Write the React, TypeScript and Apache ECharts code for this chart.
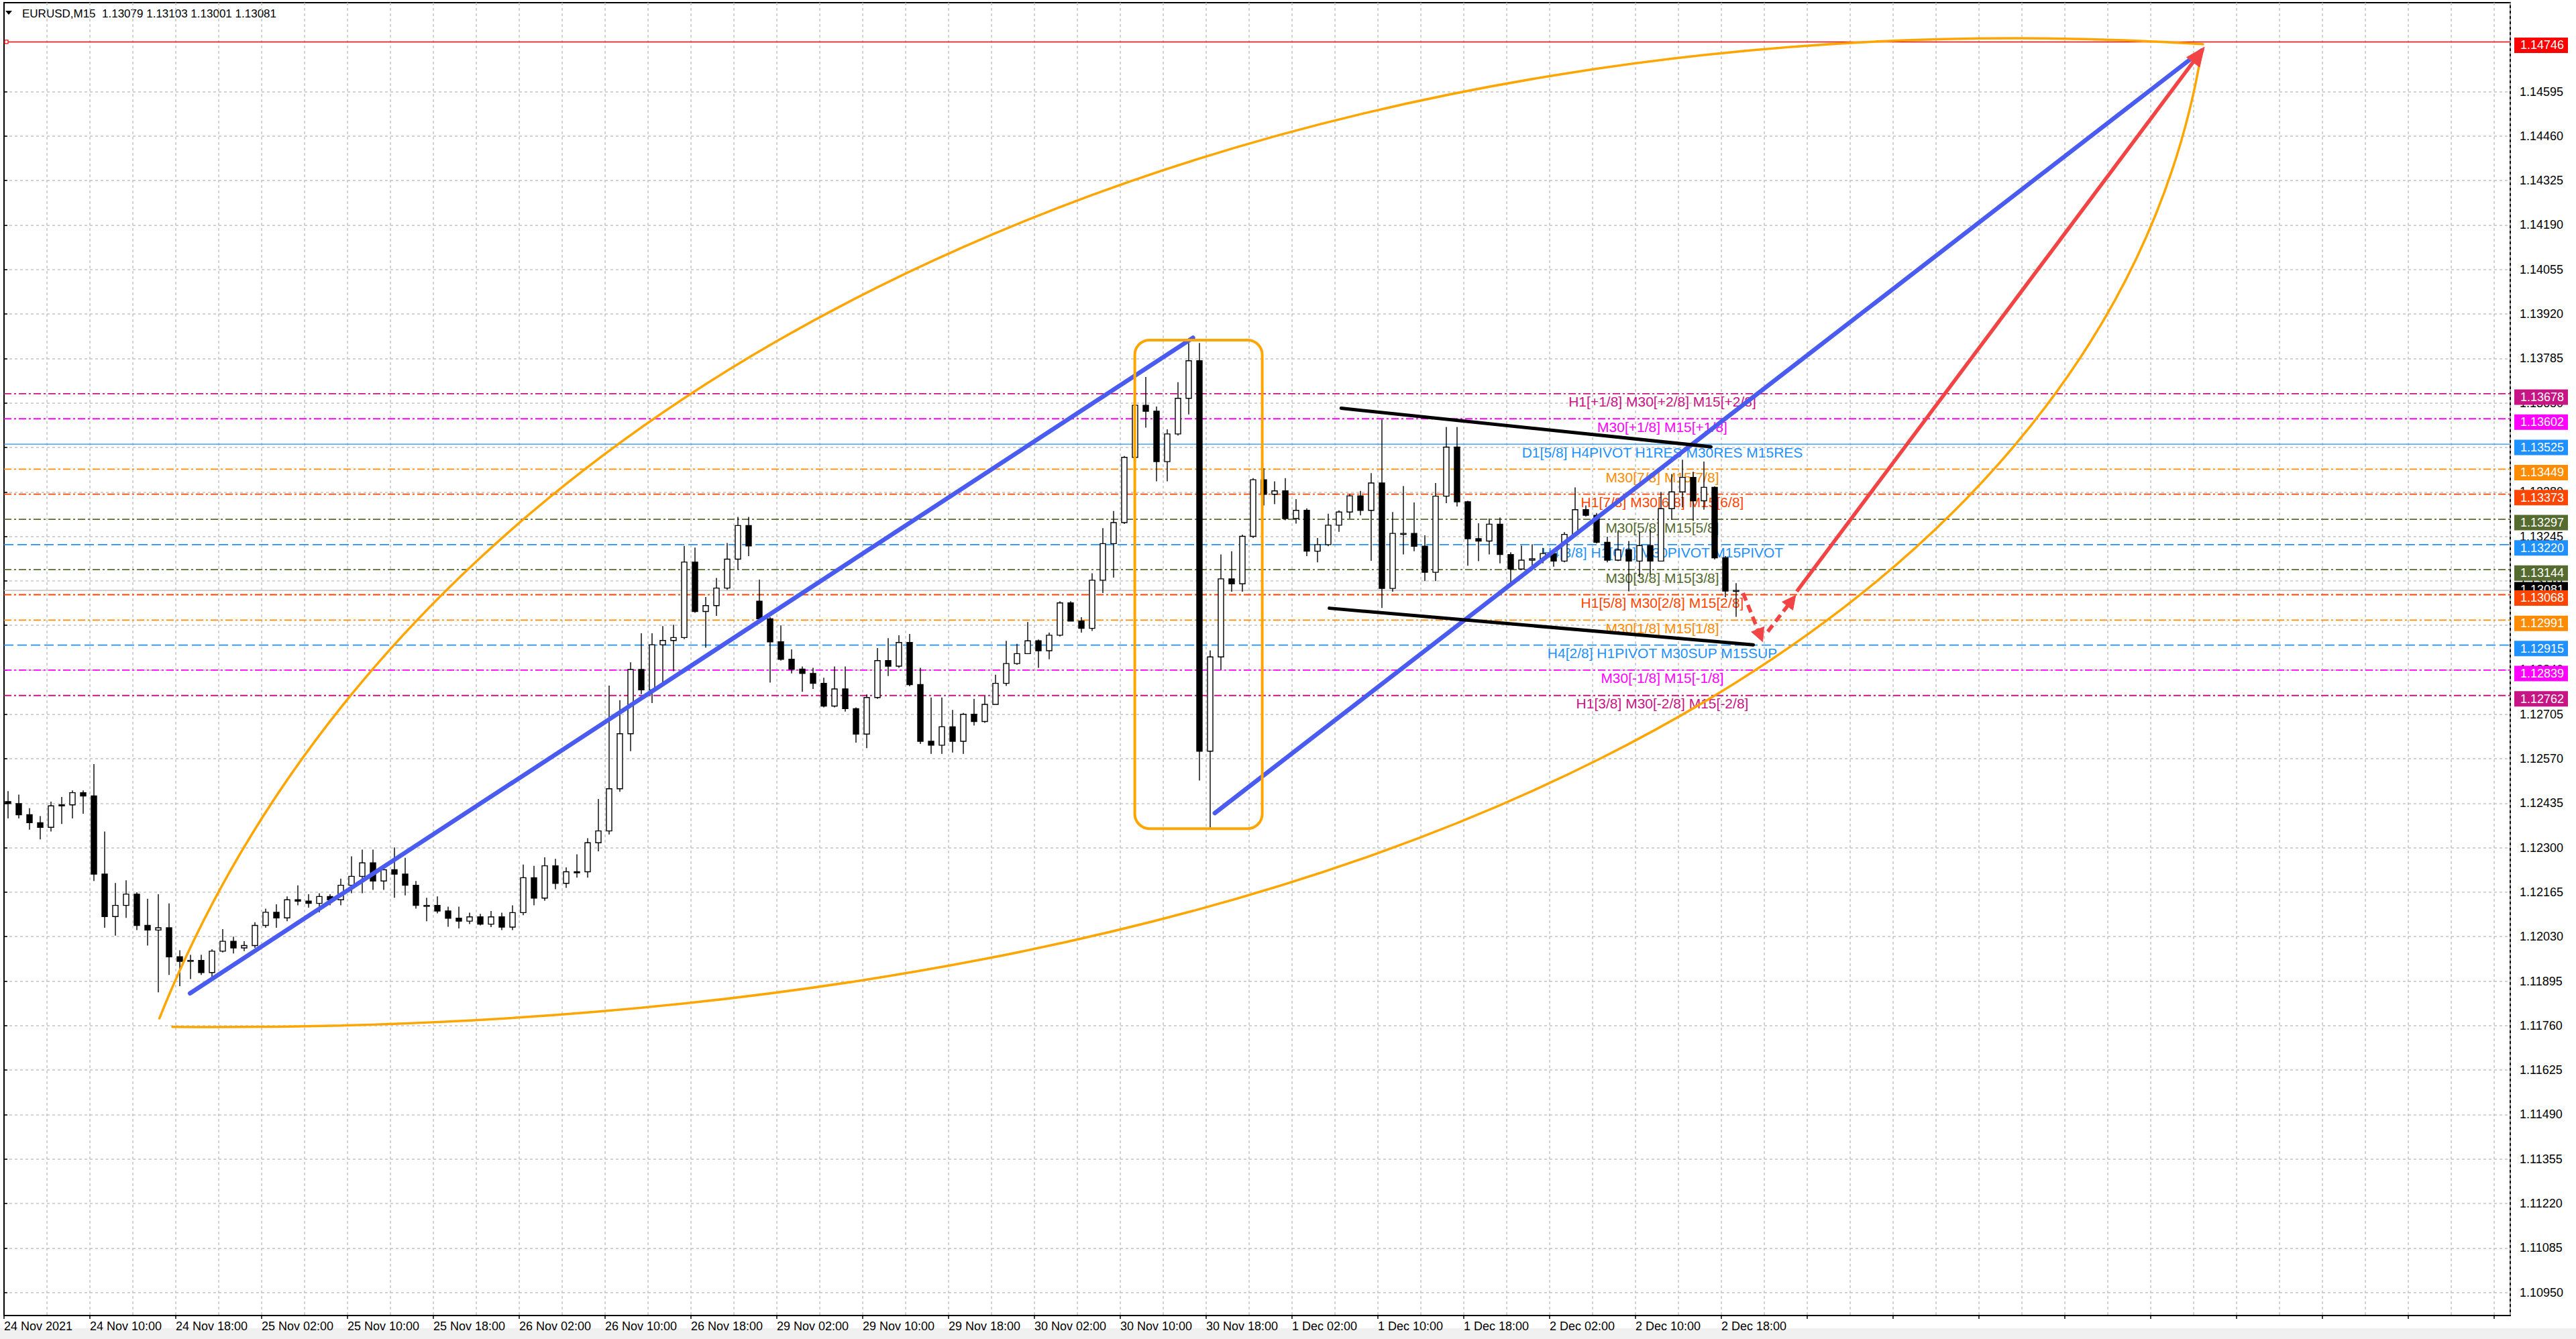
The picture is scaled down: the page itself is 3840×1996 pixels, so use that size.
import { useEffect, useRef } from 'react';
import * as echarts from 'echarts';

type Bar = [number, number, number, number]; // open, high, low, close

const symbol = 'EURUSD';
const timeframe = 'M15';

// hourly bars, one list per trading day
const nov24: Bar[] = [
  [1.1244, 1.12472, 1.12389, 1.12434], [1.12434, 1.12461, 1.12389, 1.124], [1.124, 1.1242, 1.12355, 1.12376],
  [1.12376, 1.12396, 1.12325, 1.12362], [1.12362, 1.1244, 1.12349, 1.12427], [1.12427, 1.12454, 1.12372, 1.1243],
  [1.1243, 1.12474, 1.12389, 1.12467], [1.12467, 1.12474, 1.12403, 1.12457], [1.12457, 1.12554, 1.12199, 1.1222],
  [1.1222, 1.12349, 1.12057, 1.12091], [1.12091, 1.12193, 1.12033, 1.12125], [1.12125, 1.12201, 1.12087, 1.12159],
  [1.12159, 1.12165, 1.1205, 1.12064], [1.12064, 1.12145, 1.12003, 1.1205], [1.1205, 1.12159, 1.11861, 1.12057],
  [1.12057, 1.12131, 1.11914, 1.11969], [1.11969, 1.11989, 1.1188, 1.11955], [1.11955, 1.11975, 1.11901, 1.11958],
  [1.11958, 1.11975, 1.11914, 1.11921], [1.11921, 1.11992, 1.11904, 1.11986], [1.11986, 1.12053, 1.11982, 1.12016],
  [1.12016, 1.1203, 1.11979, 1.11996],
];
const nov25: Bar[] = [
  [1.11996, 1.12016, 1.11986, 1.12003], [1.12003, 1.12074, 1.11996, 1.12064], [1.12064, 1.12115, 1.12057, 1.12104],
  [1.12104, 1.12128, 1.12057, 1.12087], [1.12087, 1.12152, 1.12077, 1.12142], [1.12142, 1.12186, 1.12125, 1.12138],
  [1.12138, 1.12159, 1.12118, 1.12131], [1.12131, 1.12162, 1.12104, 1.12152], [1.12152, 1.12159, 1.12125, 1.12142],
  [1.12142, 1.12206, 1.12125, 1.12186], [1.12186, 1.12274, 1.12162, 1.12213], [1.12213, 1.12294, 1.12162, 1.12254],
  [1.12254, 1.12294, 1.12172, 1.12199], [1.12199, 1.12247, 1.12172, 1.12233], [1.12233, 1.12301, 1.12148, 1.1222],
  [1.1222, 1.12269, 1.12155, 1.12186], [1.12186, 1.12199, 1.12115, 1.12125], [1.12125, 1.12148, 1.12077, 1.12125],
  [1.12125, 1.12152, 1.12101, 1.12108], [1.12108, 1.12121, 1.1206, 1.12086], [1.12086, 1.12121, 1.12055, 1.12077],
  [1.12077, 1.12103, 1.12068, 1.1209], [1.1209, 1.12099, 1.12064, 1.12068], [1.12068, 1.12108, 1.12059, 1.1209],
];
const nov26: Bar[] = [
  [1.1209, 1.12103, 1.1205, 1.12059], [1.12059, 1.12125, 1.1205, 1.12103], [1.12103, 1.12249, 1.12095, 1.12209],
  [1.12209, 1.12245, 1.12125, 1.12147], [1.12147, 1.12271, 1.12139, 1.12245], [1.12245, 1.12266, 1.12174, 1.12192],
  [1.12192, 1.1224, 1.12178, 1.12227], [1.12227, 1.1228, 1.12209, 1.12227], [1.12227, 1.12329, 1.12209, 1.12315],
  [1.12315, 1.12448, 1.12289, 1.12351], [1.12351, 1.12792, 1.1234, 1.12479], [1.12479, 1.12748, 1.1247, 1.12646],
  [1.12646, 1.12863, 1.12593, 1.12841], [1.12841, 1.12951, 1.12766, 1.12779], [1.12779, 1.12951, 1.12739, 1.12916],
  [1.12916, 1.12973, 1.12796, 1.12929], [1.12929, 1.12977, 1.12836, 1.12938], [1.12938, 1.13216, 1.12933, 1.13167],
  [1.13167, 1.13211, 1.13013, 1.13017], [1.13017, 1.13061, 1.12907, 1.13035], [1.13035, 1.13119, 1.13004, 1.13088],
  [1.13088, 1.13225, 1.13083, 1.13176], [1.13176, 1.13304, 1.13145, 1.13278], [1.13278, 1.13304, 1.13185, 1.13216],
];
const nov29: Bar[] = [
  [1.13048, 1.13114, 1.12986, 1.12995], [1.12995, 1.13, 1.12801, 1.12925], [1.12925, 1.12975, 1.12868, 1.12872],
  [1.12872, 1.12902, 1.12829, 1.12842], [1.12842, 1.1285, 1.12773, 1.12829], [1.12829, 1.12846, 1.12782, 1.12799],
  [1.12799, 1.12816, 1.12726, 1.1273], [1.1273, 1.1285, 1.12726, 1.12782], [1.12782, 1.1285, 1.12713, 1.12722],
  [1.12722, 1.12726, 1.12619, 1.12645], [1.12645, 1.12765, 1.12602, 1.12756], [1.12756, 1.12906, 1.12752, 1.12868],
  [1.12868, 1.12936, 1.12821, 1.12851], [1.12851, 1.12945, 1.12846, 1.12923], [1.12923, 1.12949, 1.1279, 1.12795],
  [1.12795, 1.12846, 1.12615, 1.12623], [1.12623, 1.12756, 1.12585, 1.12611], [1.12611, 1.12756, 1.12585, 1.12667],
  [1.12667, 1.12718, 1.12589, 1.12623], [1.12623, 1.12709, 1.12585, 1.12705], [1.12705, 1.12752, 1.12671, 1.12683],
  [1.12683, 1.12761, 1.12679, 1.12735], [1.12735, 1.12825, 1.12735, 1.12799], [1.12799, 1.12928, 1.12791, 1.12859],
];
const nov30: Bar[] = [
  [1.12859, 1.12919, 1.12855, 1.12889], [1.12889, 1.12985, 1.12889, 1.12928], [1.12928, 1.12932, 1.12846, 1.12898],
  [1.12898, 1.12953, 1.12872, 1.12945], [1.12945, 1.13048, 1.12941, 1.13043], [1.13043, 1.13048, 1.12988, 1.12988],
  [1.12988, 1.13, 1.12953, 1.12966], [1.12966, 1.13133, 1.12958, 1.13112], [1.13112, 1.1327, 1.13073, 1.13223],
  [1.13223, 1.13322, 1.1312, 1.13287], [1.13287, 1.13489, 1.13283, 1.13485], [1.13485, 1.13669, 1.13485, 1.13643],
  [1.13643, 1.13729, 1.13575, 1.13625], [1.13625, 1.13639, 1.13412, 1.13472], [1.13472, 1.1357, 1.13412, 1.13556],
  [1.13556, 1.13713, 1.13551, 1.13664], [1.13664, 1.13832, 1.13615, 1.13778], [1.13778, 1.13832, 1.12504, 1.12593],
  [1.12593, 1.12899, 1.12361, 1.12879], [1.12879, 1.1319, 1.1284, 1.13116], [1.13116, 1.132, 1.13077, 1.13101],
  [1.13101, 1.1325, 1.13077, 1.13245], [1.13245, 1.13422, 1.1324, 1.13417], [1.13417, 1.13452, 1.13339, 1.13373],
];
const dec01: Bar[] = [
  [1.13373, 1.13412, 1.13343, 1.13383], [1.13383, 1.13422, 1.13294, 1.13299], [1.13299, 1.13358, 1.13284, 1.13324],
  [1.13324, 1.1333, 1.13185, 1.132], [1.132, 1.1324, 1.13166, 1.1322], [1.1322, 1.13314, 1.13215, 1.13279],
  [1.13279, 1.13324, 1.13259, 1.13319], [1.13319, 1.13373, 1.13299, 1.13368], [1.13368, 1.13383, 1.13309, 1.13324],
  [1.13324, 1.13437, 1.13171, 1.13407], [1.13407, 1.136, 1.13028, 1.13087], [1.13087, 1.13319, 1.13077, 1.13254],
  [1.13254, 1.13398, 1.1319, 1.13254], [1.13254, 1.13348, 1.132, 1.13215], [1.13215, 1.13248, 1.13109, 1.13136],
  [1.13136, 1.13407, 1.13109, 1.13367], [1.13367, 1.13577, 1.13346, 1.13516], [1.13516, 1.13577, 1.13336, 1.1335],
  [1.1335, 1.13353, 1.13156, 1.13238], [1.13238, 1.13285, 1.1317, 1.13231], [1.13231, 1.13299, 1.1319, 1.13282],
  [1.13282, 1.13302, 1.13163, 1.1319], [1.1319, 1.13197, 1.13105, 1.13146], [1.13146, 1.13217, 1.13143, 1.13173],
];
const dec02: Bar[] = [
  [1.13173, 1.13221, 1.13156, 1.13177], [1.13177, 1.1321, 1.13163, 1.13193], [1.13193, 1.13207, 1.13153, 1.1317],
  [1.1317, 1.13258, 1.13166, 1.13251], [1.13251, 1.13394, 1.13251, 1.13326], [1.13326, 1.13339, 1.13305, 1.13309],
  [1.13309, 1.13316, 1.13224, 1.13227], [1.13227, 1.13244, 1.13166, 1.13173], [1.13173, 1.13261, 1.1317, 1.13204],
  [1.13204, 1.13231, 1.13078, 1.1317], [1.1317, 1.13258, 1.13122, 1.13217], [1.13217, 1.13265, 1.13129, 1.1317],
  [1.1317, 1.1338, 1.1317, 1.13329], [1.13329, 1.13434, 1.13295, 1.1338], [1.1338, 1.13478, 1.13333, 1.13424],
  [1.13424, 1.13441, 1.13292, 1.13353], [1.13353, 1.13472, 1.13326, 1.13394], [1.13394, 1.13397, 1.13175, 1.1318],
  [1.1318, 1.13185, 1.13061, 1.13079], [1.13079, 1.13103, 1.13001, 1.13081],
];

const bars: Bar[] = [...nov24, ...nov25, ...nov26, ...nov29, ...nov30, ...dec01, ...dec02];

// x axis is counted in M15 bars from 24 Nov 02:00, one label every 32 bars
const timeLabels = [
  '24 Nov 2021', '24 Nov 10:00', '24 Nov 18:00', '25 Nov 02:00', '25 Nov 10:00', '25 Nov 18:00', '26 Nov 02:00',
  '26 Nov 10:00', '26 Nov 18:00', '29 Nov 02:00', '29 Nov 10:00', '29 Nov 18:00', '30 Nov 02:00', '30 Nov 10:00',
  '30 Nov 18:00', '1 Dec 02:00', '1 Dec 10:00', '1 Dec 18:00', '2 Dec 02:00', '2 Dec 10:00', '2 Dec 18:00',
];

const priceTicks = [
  1.1095, 1.11085, 1.1122, 1.11355, 1.1149, 1.11625, 1.1176, 1.11895, 1.1203, 1.12165, 1.123, 1.12435, 1.1257, 1.12705,
  1.1284, 1.12975, 1.1311, 1.13245, 1.1338, 1.13515, 1.1365, 1.13785, 1.1392, 1.14055, 1.1419, 1.14325, 1.1446, 1.14595,
];

const alertPrice = 1.14746;

const levelPrices = [
  1.13678, 1.13602, 1.13525, 1.13449, 1.13373, 1.13297, 1.1322, 1.13144, 1.13068, 1.12991, 1.12915, 1.12839, 1.12762,
];
const levelTexts = [
  'H1[+1/8] M30[+2/8] M15[+2/8]',
  'M30[+1/8] M15[+1/8]',
  'D1[5/8] H4PIVOT H1RES M30RES M15RES',
  'M30[7/8] M15[7/8]',
  'H1[7/8] M30[6/8] M15[6/8]',
  'M30[5/8] M15[5/8]',
  'H4[3/8] H1[6/8] M30PIVOT M15PIVOT',
  'M30[3/8] M15[3/8]',
  'H1[5/8] M30[2/8] M15[2/8]',
  'M30[1/8] M15[1/8]',
  'H4[2/8] H1PIVOT M30SUP M15SUP',
  'M30[-1/8] M15[-1/8]',
  'H1[3/8] M30[-2/8] M15[-2/8]',
];
const levelTextBar = 618;

// hand drawn objects, points as [M15 bar, price]
const blueTrendA = [[69.3, 1.11858], [443.1, 1.13848]];
const blueTrendB = [[451.2, 1.12405], [819.0, 1.1472]];
const channelTop = [[498.3, 1.13634], [636.1, 1.13517]];
const channelBottom = [[493.9, 1.13027], [651.9, 1.12916]];
const spikeBox = [[421.4, 1.13841], [468.9, 1.12358]];
const arcUpper = [[57.9, 1.11782], [162.9, 1.1392], [498.5, 1.14904], [819.5, 1.14739]];
const arcLower = [[62.75, 1.11756], [511.0, 1.11726], [783.5, 1.12979], [819.0, 1.14718]];
const targetArrow = [[668.1, 1.13078], [820.0, 1.1473]];
const dipArrow = [[648.1, 1.13073], [655.4, 1.12925]];
const bounceArrow = [[657.3, 1.12956], [667.7, 1.13066]];

const FONT = '"Liberation Sans", Arial, sans-serif';
const GRID_GRAY = '#c4c4c4';
const levelColors = [
  '#C71585', '#FF00FF', '#1E90FF', '#FF8C00', '#FF4500', '#556B2F', '#1E90FF',
  '#556B2F', '#FF4500', '#FF8C00', '#1E90FF', '#FF00FF', '#C71585',
];
const DASHDOT = [11, 4, 3, 4];
const DASH = [14, 6];
const levelDash: (number[] | null)[] = [
  DASHDOT, DASHDOT, null, DASHDOT, DASHDOT, DASHDOT, DASH, DASHDOT, DASHDOT, DASHDOT, DASH, DASHDOT, DASHDOT,
];

const drawings = [
  { kind: 'line', pts: blueTrendA, color: '#4a5cf0', width: 6.5 },
  { kind: 'line', pts: blueTrendB, color: '#4a5cf0', width: 6.5 },
  { kind: 'line', pts: channelTop, color: '#000', width: 5 },
  { kind: 'line', pts: channelBottom, color: '#000', width: 5 },
  { kind: 'box', pts: spikeBox, color: '#FFA500', width: 4 },
  { kind: 'curve', pts: arcUpper, color: '#FFA500', width: 3.5 },
  { kind: 'curve', pts: arcLower, color: '#FFA500', width: 3.5 },
  { kind: 'arrow', pts: targetArrow, color: '#F24444', width: 5.5 },
  { kind: 'dashArrow', pts: dipArrow, color: '#F24444', width: 5.5 },
  { kind: 'dashArrow', pts: bounceArrow, color: '#F24444', width: 5.5 },
];

function arrowHead(tip: number[], from: number[], len: number, half: number) {
  const dx = tip[0] - from[0];
  const dy = tip[1] - from[1];
  const d = Math.hypot(dx, dy) || 1;
  const ux = dx / d;
  const uy = dy / d;
  const bx = tip[0] - ux * len;
  const by = tip[1] - uy * len;
  return {
    base: [bx, by],
    points: [[tip[0], tip[1]], [bx - uy * half, by + ux * half], [bx + uy * half, by - ux * half]],
  };
}

export default function App() {
  const chartRef = useRef<HTMLDivElement>(null);

  useEffect(() => {
    if (!chartRef.current) return;
    const chart = echarts.init(chartRef.current, undefined, { renderer: 'svg' });

    const last = bars[bars.length - 1];
    const bidPrice = last[3];
    const title = `${symbol},${timeframe}\u00a0 ${last.map((v) => v.toFixed(5)).join(' ')}`;

    const candleData = bars.map((b, k) => [4 * k + 1.5, b[0], b[1], b[2], b[3]]);

    const option: any = {
      animation: false,
      backgroundColor: '#fff',
      grid: { left: 6, right: 98, top: 4, bottom: 35, show: true, borderColor: '#000', borderWidth: 2 },
      xAxis: {
        type: 'value',
        min: 0,
        max: 934,
        interval: 32,
        axisLine: { show: true, lineStyle: { color: '#000', width: 2 } },
        axisTick: { show: true, length: 5, lineStyle: { color: '#000', width: 1.5 } },
        axisLabel: {
          color: '#000',
          fontFamily: FONT,
          fontSize: 18,
          align: 'left',
          margin: 7,
          showMaxLabel: false,
          formatter: (v: number) => (v % 32 === 0 ? timeLabels[v / 32] ?? '' : ''),
        },
        splitLine: { show: true, lineStyle: { color: GRID_GRAY, type: [4, 4], width: 1.5 } },
        minorTick: { show: false, splitNumber: 2 },
        minorSplitLine: { show: true, lineStyle: { color: GRID_GRAY, type: [4, 4], width: 1.5 } },
      },
      yAxis: {
        type: 'value',
        position: 'right',
        min: 1.1088,
        max: 1.14865,
        scale: true,
        axisLine: { show: true, lineStyle: { color: '#000', width: 2 } },
        axisTick: { show: true, length: 5, customValues: priceTicks, lineStyle: { color: '#000', width: 1.5 } },
        axisLabel: {
          customValues: priceTicks,
          color: '#000',
          fontFamily: FONT,
          fontSize: 18,
          margin: 14,
          formatter: (v: number) => v.toFixed(5),
        },
        splitLine: { show: true, lineStyle: { color: GRID_GRAY, type: [4, 4], width: 1.5 } },
      },
      graphic: [
        { type: 'rect', left: 0, top: 1980, shape: { width: 3840, height: 16 }, style: { fill: '#f0f0f0' }, silent: true },
        { type: 'polygon', shape: { points: [[8, 16], [18, 16], [13, 22]] }, style: { fill: '#000' } },
        {
          type: 'text',
          x: 33,
          y: 20,
          style: { text: title, fill: '#000', fontFamily: FONT, fontSize: 17, verticalAlign: 'middle', textVerticalAlign: 'middle' },
        },
      ],
      series: [
        {
          // horizontal levels, alert line and bid line
          type: 'custom',
          coordinateSystem: 'cartesian2d',
          z: 1,
          silent: true,
          data: [...levelPrices.map((p, i) => [i, p]), [-1, alertPrice], [-2, bidPrice]],
          encode: { x: 0, y: 1 },
          renderItem: (params: any, api: any) => {
            const cs = params.coordSys;
            const idx = api.value(0);
            const y = api.coord([0, api.value(1)])[1];
            if (idx === -1) {
              return {
                type: 'group',
                children: [
                  { type: 'line', shape: { x1: cs.x, y1: y, x2: cs.x + cs.width, y2: y }, style: { stroke: '#FF0000', lineWidth: 1.5 } },
                  { type: 'rect', shape: { x: cs.x + 1, y: y - 2.5, width: 5, height: 5 }, style: { fill: '#fff', stroke: '#FF0000', lineWidth: 1.2 } },
                ],
              };
            }
            if (idx === -2) {
              return { type: 'line', shape: { x1: cs.x, y1: y, x2: cs.x + cs.width, y2: y }, style: { stroke: '#c0c0c0', lineWidth: 1.5 } };
            }
            const dash = levelDash[idx];
            return {
              type: 'line',
              shape: { x1: cs.x, y1: y, x2: cs.x + cs.width, y2: y },
              style: { stroke: levelColors[idx], lineWidth: dash ? 1.8 : 1.3, lineDash: dash ?? undefined },
            };
          },
        },
        {
          // level captions
          type: 'custom',
          coordinateSystem: 'cartesian2d',
          z: 2,
          silent: true,
          data: levelPrices.map((p, i) => [i, p]),
          encode: { x: 0, y: 1 },
          renderItem: (_params: any, api: any) => {
            const idx = api.value(0);
            const pt = api.coord([levelTextBar, api.value(1)]);
            return {
              type: 'text',
              x: pt[0],
              y: pt[1] + 12,
              style: {
                text: levelTexts[idx],
                fill: levelColors[idx],
                fontFamily: FONT,
                fontSize: 21,
                align: 'center',
                textAlign: 'center',
                verticalAlign: 'middle',
                textVerticalAlign: 'middle',
              },
            };
          },
        },
        {
          // candles
          type: 'custom',
          coordinateSystem: 'cartesian2d',
          z: 3,
          silent: true,
          data: candleData,
          encode: { x: 0, y: [1, 2, 3, 4] },
          renderItem: (_params: any, api: any) => {
            const x = api.value(0);
            const o = api.value(1);
            const c = api.value(4);
            const po = api.coord([x, o]);
            const pc = api.coord([x, c]);
            const ph = api.coord([x, api.value(2)]);
            const pl = api.coord([x, api.value(3)]);
            const bw = 8;
            const top = Math.min(po[1], pc[1]);
            const h = Math.max(Math.abs(po[1] - pc[1]), 1.5);
            return {
              type: 'group',
              children: [
                { type: 'line', shape: { x1: ph[0], y1: ph[1], x2: pl[0], y2: pl[1] }, style: { stroke: '#000', lineWidth: 1.4 } },
                {
                  type: 'rect',
                  shape: { x: po[0] - bw / 2, y: top, width: bw, height: h },
                  style: { fill: c >= o ? '#fff' : '#000', stroke: '#000', lineWidth: 1.4 },
                },
              ],
            };
          },
        },
        {
          // trend lines, box, arcs and arrows
          type: 'custom',
          coordinateSystem: 'cartesian2d',
          z: 4,
          silent: true,
          clip: false,
          data: drawings.map((d) => [d.pts[0][0], d.pts[0][1]]),
          encode: { x: 0, y: 1 },
          renderItem: (params: any, api: any) => {
            const d = drawings[params.dataIndex];
            const p = d.pts.map((q) => api.coord(q));
            const base = { stroke: d.color, lineWidth: d.width, fill: 'none', lineCap: 'round' };
            if (d.kind === 'line') {
              return { type: 'line', shape: { x1: p[0][0], y1: p[0][1], x2: p[1][0], y2: p[1][1] }, style: base };
            }
            if (d.kind === 'box') {
              return {
                type: 'rect',
                shape: { x: p[0][0], y: p[0][1], width: p[1][0] - p[0][0], height: p[1][1] - p[0][1], r: 22 },
                style: base,
              };
            }
            if (d.kind === 'curve') {
              return {
                type: 'bezierCurve',
                shape: {
                  x1: p[0][0], y1: p[0][1], cpx1: p[1][0], cpy1: p[1][1],
                  cpx2: p[2][0], cpy2: p[2][1], x2: p[3][0], y2: p[3][1],
                },
                style: base,
              };
            }
            const dashed = d.kind === 'dashArrow';
            const head = arrowHead(p[1], p[0], dashed ? 20 : 28, dashed ? 10 : 12);
            return {
              type: 'group',
              children: [
                {
                  type: 'line',
                  shape: { x1: p[0][0], y1: p[0][1], x2: head.base[0], y2: head.base[1] },
                  style: { ...base, lineDash: dashed ? [12, 7] : undefined, lineCap: 'butt' },
                },
                { type: 'polygon', shape: { points: head.points }, style: { fill: d.color, stroke: d.color, lineWidth: 1 } },
              ],
            };
          },
        },
        {
          // price tags on the right scale
          type: 'custom',
          coordinateSystem: 'cartesian2d',
          z: 5,
          silent: true,
          clip: false,
          data: [[-1, alertPrice], [-2, bidPrice], ...levelPrices.map((p, i) => [i, p])],
          encode: { x: 0, y: 1 },
          renderItem: (params: any, api: any) => {
            const cs = params.coordSys;
            const idx = api.value(0);
            const price = api.value(1);
            const y = api.coord([0, price])[1];
            const color = idx === -1 ? '#FF0000' : idx === -2 ? '#000000' : levelColors[idx];
            const cy = idx === -2 ? y - 1 : y + 5;
            const x0 = cs.x + cs.width + 6;
            return {
              type: 'group',
              children: [
                { type: 'rect', shape: { x: x0, y: cy - 11.5, width: 80, height: 23 }, style: { fill: color } },
                {
                  type: 'text',
                  x: x0 + 9,
                  y: cy,
                  style: {
                    text: price.toFixed(5),
                    fill: '#fff',
                    fontFamily: FONT,
                    fontSize: 18,
                    verticalAlign: 'middle',
                    textVerticalAlign: 'middle',
                  },
                },
              ],
            };
          },
        },
      ],
    };

    chart.setOption(option);
    return () => chart.dispose();
  }, []);

  return (
    <div
      ref={chartRef}
      style={{ position: 'absolute', left: 0, top: 0, width: 3840, height: 1996, background: '#fff' }}
    />
  );
}
